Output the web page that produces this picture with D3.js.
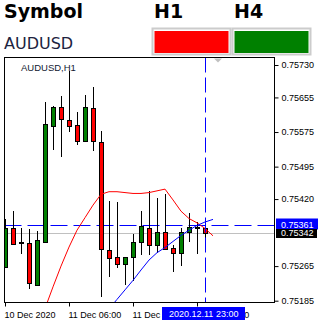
<!DOCTYPE html>
<html>
<head>
<meta charset="utf-8">
<script src="https://cdn.jsdelivr.net/npm/d3@7"></script>
<style>
    body { margin: 0; background: #fff; }
    svg { display: block; font-family: "Liberation Sans", Arial, sans-serif; }
</style>
</head>
<body>
<svg width="320" height="320"></svg>
<script>
// H1 bars, 10 Dec 22:00 .. 11 Dec 23:00
var hours = ["2020.12.10 22:00", "2020.12.10 23:00", "2020.12.11 00:00", "2020.12.11 01:00",
    "2020.12.11 02:00", "2020.12.11 03:00", "2020.12.11 04:00", "2020.12.11 05:00",
    "2020.12.11 06:00", "2020.12.11 07:00", "2020.12.11 08:00", "2020.12.11 09:00",
    "2020.12.11 10:00", "2020.12.11 11:00", "2020.12.11 12:00", "2020.12.11 13:00",
    "2020.12.11 14:00", "2020.12.11 15:00", "2020.12.11 16:00", "2020.12.11 17:00",
    "2020.12.11 18:00", "2020.12.11 19:00", "2020.12.11 20:00", "2020.12.11 21:00",
    "2020.12.11 22:00", "2020.12.11 23:00"];

var open  = [0.75264, 0.75352, 0.75321, 0.75318, 0.75222, 0.75321, 0.75590, 0.75632, 0.75603, 0.75591,
             0.75554, 0.75631, 0.75552, 0.75302, 0.75285, 0.75271, 0.75285, 0.75321, 0.75352, 0.75313,
             0.75343, 0.75306, 0.75295, 0.75345, 0.75352, 0.75352];
var high  = [0.75374, 0.75392, 0.75352, 0.75350, 0.75346, 0.75644, 0.75636, 0.75658, 0.75715, 0.75621,
             0.75661, 0.75679, 0.75577, 0.75416, 0.75413, 0.75287, 0.75340, 0.75392, 0.75438, 0.75422,
             0.75432, 0.75313, 0.75352, 0.75387, 0.75367, 0.75360];
var low   = [0.75264, 0.75317, 0.75292, 0.75213, 0.75219, 0.75321, 0.75534, 0.75518, 0.75574, 0.75545,
             0.75553, 0.75530, 0.75193, 0.75240, 0.75261, 0.75221, 0.75231, 0.75291, 0.75291, 0.75295,
             0.75302, 0.75252, 0.75266, 0.75321, 0.75293, 0.75314];
var close = [0.75352, 0.75317, 0.75318, 0.75225, 0.75325, 0.75593, 0.75632, 0.75604, 0.75590, 0.75555,
             0.75632, 0.75554, 0.75304, 0.75283, 0.75271, 0.75285, 0.75320, 0.75358, 0.75313, 0.75343,
             0.75304, 0.75295, 0.75345, 0.75355, 0.75356, 0.75342];

// indicator lines, one point further than the last bar (shifted)
var maRed  = [null, null, null, null, null, 0.75167, 0.75217, 0.75265, 0.75309, 0.75348,
              0.75377, 0.75406, 0.75431, 0.75437, 0.75437, 0.75435, 0.75433, 0.75433, 0.75435, 0.75439,
              0.75443, 0.75418, 0.75392, 0.75375, 0.75365, 0.75352, 0.75335];
var maBlue = [null, null, null, null, null, null, null, null, null, null,
              null, null, null, 0.75166, 0.75188, 0.75210, 0.75232, 0.75256, 0.75279, 0.75296,
              0.75308, 0.75322, 0.75336, 0.75348, 0.75359, 0.75367, 0.75373];

var priceTicks = [0.75730, 0.75655, 0.75575, 0.75495, 0.75420, 0.75265, 0.75185];
var timeTickIdx = [0, 8, 16, 24];
var timeTickLabels = ["10 Dec 2020", "11 Dec 06:00", "11 Dec 14:00", "11 Dec 22:00"];

var bidPrice = 0.75342;
var crossPrice = 0.75361;
var crossIdx = 25;

var symbol = "AUDUSD";
var timeframes = ["H1", "H4"];
var trend = ["down", "up"];

var svg = d3.select("svg");

var pLeft = 4.5, pTop = 57.5, pRight = 274.5, pBottom = 302.5;
var x = d3.scaleLinear().domain([0, 25]).range([5, 205]);
var y = d3.scaleLinear().domain([0.75185, 0.75730]).range([300.7, 65]);

// header
svg.append("text").attr("x", 4).attr("y", 17.5)
    .style("font-family", "DejaVu Sans").style("font-weight", "bold").style("font-size", "19px")
    .text("Symbol");
svg.append("text").attr("x", 4).attr("y", 48.5)
    .style("font-family", "DejaVu Sans").style("font-size", "16px").attr("fill", "#1c2340")
    .text(symbol);

var tf = svg.selectAll(".tf").data(timeframes).enter().append("g")
    .attr("class", "tf")
    .attr("transform", function (d, i) { return "translate(" + (152 + i * 80) + ",0)"; });
tf.append("text").attr("x", 2).attr("y", 17.5)
    .style("font-family", "DejaVu Sans").style("font-weight", "bold").style("font-size", "19px")
    .text(function (d) { return d; });
tf.append("rect").attr("x", 0.5).attr("y", 28.5).attr("width", 78).attr("height", 26)
    .attr("fill", "none").attr("stroke", "#cccccc").attr("stroke-width", 2);
tf.append("rect").attr("x", 2.5).attr("y", 31).attr("width", 74).attr("height", 22)
    .attr("fill", function (d, i) { return trend[i] === "up" ? "#008000" : "#ff0000"; });

// chart
svg.append("defs").append("clipPath").attr("id", "plot")
    .append("rect").attr("x", pLeft + 0.5).attr("y", pTop + 0.5)
    .attr("width", pRight - pLeft - 1).attr("height", pBottom - pTop - 1);

var plot = svg.append("g").attr("clip-path", "url(#plot)");

plot.append("line").attr("x1", pLeft).attr("x2", pRight)
    .attr("y1", Math.round(y(bidPrice)) + 0.5).attr("y2", Math.round(y(bidPrice)) + 0.5)
    .attr("stroke", "#c0c0c0");
plot.append("line").attr("x1", pLeft).attr("x2", pRight)
    .attr("y1", Math.round(y(crossPrice)) + 0.5).attr("y2", Math.round(y(crossPrice)) + 0.5)
    .attr("stroke", "#0000ff").attr("stroke-dasharray", "17,6");

var idx = d3.range(open.length);
var cx = function (i) { return Math.round(x(i)) + 0.5; };

plot.selectAll(".wick").data(idx).enter().append("line")
    .attr("x1", cx).attr("x2", cx)
    .attr("y1", function (i) { return Math.round(y(high[i])); })
    .attr("y2", function (i) { return Math.round(y(low[i])); })
    .attr("stroke", "#000");

plot.selectAll(".body").data(idx).enter().append("rect")
    .attr("x", function (i) { return cx(i) - 2; })
    .attr("y", function (i) { return Math.round(y(Math.max(open[i], close[i]))) + 0.5; })
    .attr("width", 4)
    .attr("height", function (i) {
        return Math.max(1, Math.round(y(Math.min(open[i], close[i]))) - Math.round(y(Math.max(open[i], close[i]))));
    })
    .attr("fill", function (i) { return close[i] >= open[i] ? "#008000" : "#ff0000"; })
    .attr("stroke", "#000");

var line = d3.line()
    .defined(function (d) { return d !== null; })
    .x(function (d, i) { return x(i); })
    .y(function (d) { return y(d); });

plot.append("path").datum(maRed).attr("d", line)
    .attr("fill", "none").attr("stroke", "#ff0000").attr("stroke-width", 1);
plot.append("path").datum(maBlue).attr("d", line)
    .attr("fill", "none").attr("stroke", "#0000ff").attr("stroke-width", 1);

plot.append("line").attr("x1", cx(crossIdx)).attr("x2", cx(crossIdx))
    .attr("y1", pTop).attr("y2", pBottom)
    .attr("stroke", "#0000ff").attr("stroke-dasharray", "15,5");

svg.append("text").attr("x", 21).attr("y", 70.5)
    .style("font-size", "9.5px").attr("fill", "#101830")
    .text(symbol + "," + timeframes[0]);

// chart shift marker
svg.append("path").attr("d", "M214,58.5 L222,58.5 L218,62.5 Z").attr("fill", "#c0c0c0");

svg.append("rect").attr("x", pLeft).attr("y", pTop)
    .attr("width", pRight - pLeft).attr("height", pBottom - pTop)
    .attr("fill", "none").attr("stroke", "#000");

// price axis
var yAxis = d3.axisRight(y).tickValues(priceTicks).tickSize(4).tickPadding(3)
    .tickFormat(d3.format(".5f"));
var ya = svg.append("g").attr("transform", "translate(" + pRight + ",0)").call(yAxis);
ya.select(".domain").remove();
ya.selectAll("text").style("font-size", "9px").style("font-family", "Liberation Sans").attr("fill", "#000");

// time axis
var xAxis = d3.axisBottom(x).tickValues(timeTickIdx).tickSize(4).tickPadding(3)
    .tickFormat(function (d, i) { return timeTickLabels[i]; });
var xa = svg.append("g").attr("transform", "translate(0," + pBottom + ")").call(xAxis);
xa.select(".domain").remove();
xa.selectAll(".tick").attr("transform", function (d) { return "translate(" + cx(d) + ",0)"; });
xa.selectAll("text").attr("text-anchor", "start").attr("x", -1).attr("dy", "0.9em")
    .style("font-size", "9px").style("font-family", "Liberation Sans").attr("fill", "#000");

// bid and crosshair labels
var tags = [
    {price: crossPrice, fill: "#0000ff", y0: 218.5, h: 11},
    {price: bidPrice, fill: "#000000", y0: 229, h: 9}
];
var tg = svg.selectAll(".tag").data(tags).enter().append("g").attr("class", "tag");
tg.append("rect").attr("x", 276).attr("y", function (d) { return d.y0; })
    .attr("width", function (d, i) { return i === 0 ? 42 : 41; })
    .attr("height", function (d) { return d.h; })
    .attr("fill", function (d) { return d.fill; });
tg.append("text").attr("x", 281)
    .attr("y", function (d) { return d.y0 + d.h - 2; })
    .style("font-size", "9px").attr("fill", "#fff")
    .text(function (d) { return d3.format(".5f")(d.price); });

// crosshair time label, drawn over the axis labels like the terminal does
svg.append("rect").attr("x", 162).attr("y", 307).attr("width", 83).attr("height", 13).attr("fill", "#0000ff");
svg.append("text").attr("x", 169).attr("y", 317)
    .style("font-size", "9px").attr("fill", "#fff")
    .text(hours[crossIdx]);
</script>
</body>
</html>
